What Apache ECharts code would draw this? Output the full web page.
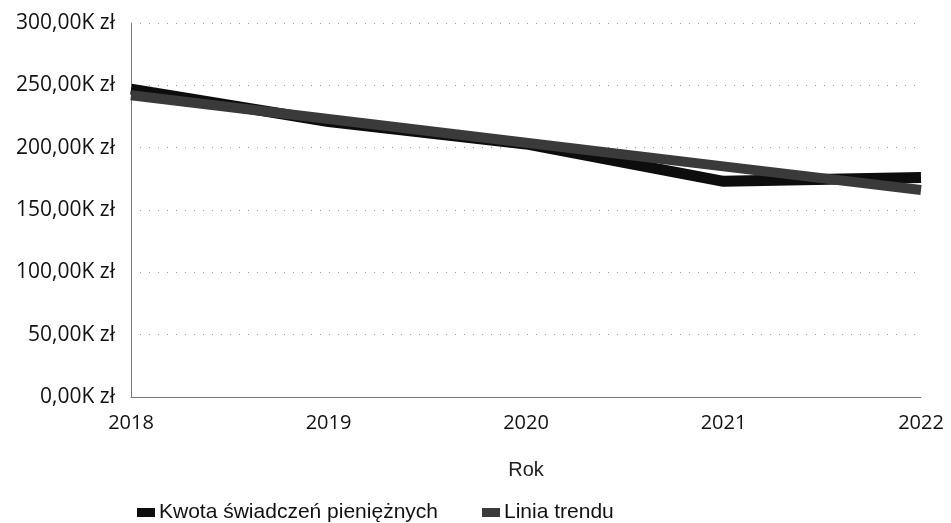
<!DOCTYPE html>
<html>
<head>
<meta charset="utf-8">
<script src="https://cdn.jsdelivr.net/npm/echarts@6/dist/echarts.min.js"></script>
<style>
  html, body { margin: 0; padding: 0; background: #fff; }
  #chart { width: 951px; height: 523px; }
</style>
</head>
<body>
<div id="chart"></div>
<script>
// Years on the category axis
const years = ['2018', '2019', '2020', '2021', '2022'];
// Amount of cash benefits (zł)
const kwota = [247000, 221000, 203000, 173000, 176000];
// Linear trend of the amount (zł)
const trend = [242000, 223000, 204000, 185000, 166000];
// Value axis range
const yMin = 0, yMax = 300000, yStep = 50000;

const axisFont = '"Open Sans", "Liberation Sans", sans-serif';
const textFont = '"Liberation Sans", Arial, sans-serif';

function fmtZl(v) {
  return (v / 1000).toFixed(2).replace('.', ',') + 'K zł';
}

const chart = echarts.init(document.getElementById('chart'), null, { renderer: 'canvas' });
chart.setOption({
  backgroundColor: '#ffffff',
  animation: false,
  grid: { left: 131, right: 30, top: 23, bottom: 126, containLabel: false },
  legend: {
    bottom: -5,
    left: 132,
    itemWidth: 18,
    itemHeight: 9,
    itemGap: 44,
    icon: 'rect',
    textStyle: { fontFamily: textFont, fontSize: 21, color: '#111', padding: [0, 0, 0, -1] },
    data: ['Kwota świadczeń pieniężnych', 'Linia trendu']
  },
  xAxis: {
    type: 'category',
    data: years,
    boundaryGap: false,
    name: 'Rok',
    nameLocation: 'middle',
    nameGap: 63,
    nameTextStyle: { fontFamily: textFont, fontSize: 20, color: '#222' },
    axisLine: { lineStyle: { color: '#777', width: 1 } },
    axisTick: { show: false },
    axisLabel: { fontFamily: axisFont, fontSize: 20, color: '#111', margin: 16 }
  },
  yAxis: {
    type: 'value',
    min: yMin,
    max: yMax,
    interval: yStep,
    axisLine: { show: true, lineStyle: { color: '#777', width: 1 } },
    axisTick: { show: false },
    axisLabel: { fontFamily: axisFont, fontSize: 21, color: '#111', margin: 16, formatter: fmtZl },
    splitLine: { lineStyle: { color: '#999', width: 1, type: [1, 8] } }
  },
  series: [
    {
      name: 'Kwota świadczeń pieniężnych',
      type: 'line',
      data: kwota,
      symbol: 'none',
      lineStyle: { color: '#0d0d0d', width: 11 },
      itemStyle: { color: '#0d0d0d' },
      z: 2
    },
    {
      name: 'Linia trendu',
      type: 'line',
      data: trend,
      symbol: 'none',
      lineStyle: { color: '#3a3a3a', width: 10 },
      itemStyle: { color: '#3a3a3a' },
      z: 3
    }
  ]
});
</script>
</body>
</html>
